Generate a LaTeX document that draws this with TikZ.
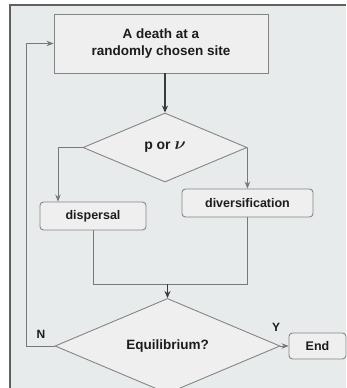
\documentclass[tikz,border=0pt]{standalone}
\usepackage{amsmath,amsbsy}
\usepackage{fontspec}
\setmainfont{Liberation Sans}
\usetikzlibrary{shapes.geometric,arrows.meta}
\definecolor{panel}{HTML}{E7EBEC}
\definecolor{boxfill}{HTML}{EFEFEF}
\definecolor{edge}{HTML}{858585}
\definecolor{ink}{HTML}{1C1C1C}
\definecolor{darkline}{HTML}{3A3A3A}
\begin{document}
\begin{tikzpicture}[x=1pt,y=-1pt,
  every node/.style={font=\bfseries\fontsize{12.5}{15}\selectfont, text=ink, inner sep=0pt},
  procbox/.style={draw=edge, fill=boxfill, line width=0.9pt},
  stepbox/.style={procbox, rounded corners=3.5pt},
  choice/.style={procbox, diamond},
  link/.style={draw=edge!90!black, line width=0.9pt},
  garrow/.style={link, -{Stealth[length=7pt,width=5.5pt]}},
  darrow/.style={draw=darkline, line width=1.1pt, -{Stealth[length=7pt,width=6pt]}},
  tag/.style={font=\bfseries\fontsize{12}{14}\selectfont}]
  \useasboundingbox (0,0) rectangle (346,388);
  % panel behind the chart, framed on the left and top
  \fill[panel] (10,5) rectangle (346,388);
  \draw[darkline!80, line width=1.2pt] (10,388) -- (10,5) -- (346,5);

  % nodes
  \node[procbox, minimum width=214pt, minimum height=59pt, align=center,
        font=\bfseries\fontsize{13.5}{17}\selectfont] (top) at (161,43.5)
        {A death at a\\randomly chosen site};
  \node[choice, minimum width=164pt, minimum height=69pt,
        font=\bfseries\fontsize{14}{16}\selectfont] (d1) at (165,147.5)
        {p or {\fontsize{19}{19}\selectfont$\boldsymbol{\nu}$}\hspace{8pt}};
  \node[stepbox, minimum width=106pt, minimum height=28pt] (disp) at (93,216) {dispersal};
  \node[stepbox, minimum width=131pt, minimum height=28pt] (div) at (247.5,203) {diversification};
  \node[choice, minimum width=225pt, minimum height=72pt,
        font=\bfseries\fontsize{13.5}{16}\selectfont] (d2) at (167.5,346) {Equilibrium?\hspace{3pt}};
  \node[stepbox, minimum width=57pt, minimum height=26pt] (end) at (317.5,346) {End\hspace{6pt}};

  % connectors
  \draw[darrow] (top.south -| d1.north) -- (d1.north);
  \draw[garrow] (d1.west) -| ([xshift=-35pt]disp.north);
  \draw[garrow] (d1.east) -- (d1.east |- div.north);
  \coordinate (merge) at (d2.north |- 0,284);
  \draw[link] (disp.south) |- (merge);
  \draw[link] (div.south) |- (merge);
  \draw[darrow] (merge) -- (d2.north);
  \draw[garrow] (d2.west) -- ++(-28,0) |- (top.west);
  \draw[garrow] (d2.east) -- (end.west);

  % branch labels
  \node[tag] (nlab) at (41,334) {N};
  \node[tag] (ylab) at (276,327) {Y};
\end{tikzpicture}
\end{document}
